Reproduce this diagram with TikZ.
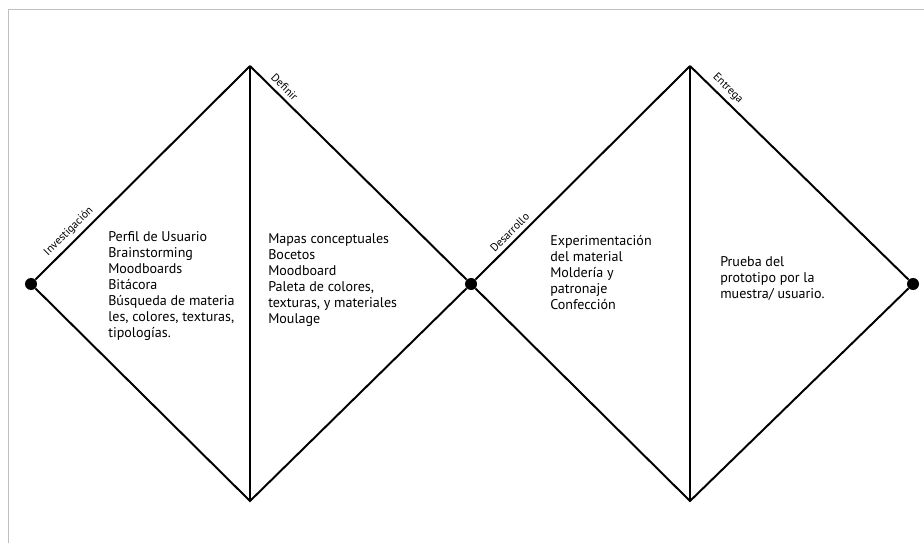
\documentclass[tikz,border=0pt]{standalone}
\usepackage{fontspec}
\setmainfont{PT Sans}

\begin{document}
\begin{tikzpicture}[x=0.025cm,y=-0.025cm,
	fase/.style={black,line width=1.4pt},
	eje/.style={black,line width=0.9pt},
	punto/.style={circle,fill=black,inner sep=0pt,minimum size=0.3cm},
	lista/.style={anchor=north west,align=left,inner sep=0pt,font=\fontsize{10}{11.4}\selectfont},
	etapa/.style={sloped,above,inner sep=3pt,font=\fontsize{8}{9}\selectfont}]
\useasboundingbox (0,0) rectangle (924,543);
\draw[black!25] (8,543) -- (8,9) -- (924,9);

\node[punto] (I) at (31,284) {};
\node[punto] (D) at (471,284) {};
\node[punto] (F) at (913,284) {};
\coordinate (T1) at (250,66);
\coordinate (B1) at (250,501);
\coordinate (T2) at (690,66);
\coordinate (B2) at (690,501);

\draw[fase] (I) -- (T1) node[etapa,pos=0.19] {Investigación};
\draw[fase] (T1) -- (D) node[etapa,pos=0.13] {Definir};
\draw[fase] (D) -- (B1) -- (I);
\draw[fase] (D) -- (T2) node[etapa,pos=0.19] {Desarrollo};
\draw[fase] (T2) -- (F) node[etapa,pos=0.14] {Entrega};
\draw[fase] (F) -- (B2) -- (D);
\draw[eje] (T1) -- (B1);
\draw[eje] (T2) -- (B2);

\node[lista] (L1) at (108,231) {Perfil de Usuario\\Brainstorming\\Moodboards\\Bitácora\\Búsqueda de materia\\les, colores, texturas,\\tipologías.};
\node[lista] (L2) at (268,233) {Mapas conceptuales\\Bocetos\\Moodboard\\Paleta de colores,\\texturas, y materiales\\Moulage};
\node[lista] (L3) at (550,235) {Experimentación\\del material\\Moldería y\\patronaje\\Confección};
\node[lista] (L4) at (720,256) {Prueba del\\prototipo por la\\muestra/ usuario.};
\end{tikzpicture}
\end{document}
